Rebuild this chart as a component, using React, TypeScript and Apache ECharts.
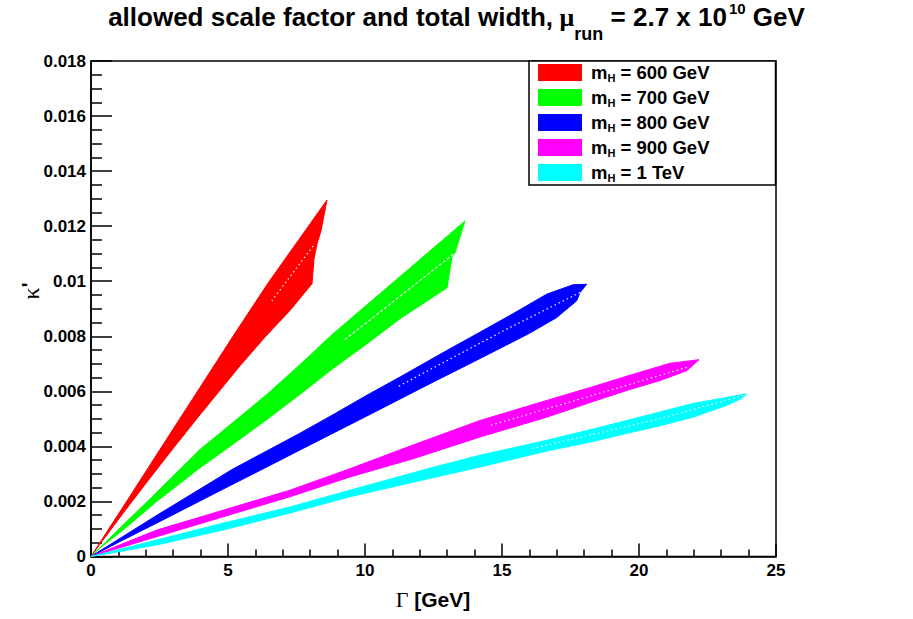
import React, { useEffect, useRef } from "react";
import * as echarts from "echarts";

// ---- data (Γ [GeV], κ') : outlines of the allowed regions ----
const red600: number[][] = [
  [0, 0], [0.693, 0.00107], [1.423, 0.00219], [2.518, 0.00389], [3.978, 0.00614],
  [5.182, 0.008], [6.46, 0.00993], [7.372, 0.01121], [8.613, 0.01295],
  [8.394, 0.01183], [8.248, 0.01135], [8.139, 0.01081], [8.066, 0.00991],
  [7.263, 0.00894], [6.35, 0.00797], [5.438, 0.00693], [4.708, 0.00604],
  [3.978, 0.00515], [2.993, 0.00392], [2.044, 0.00271], [1.168, 0.00157], [0.328, 0.00045],
];
const green700: number[][] = [
  [0, 0], [1.168, 0.00114], [2.409, 0.00234], [3.978, 0.00389], [5.182, 0.00487],
  [6.423, 0.00589], [7.628, 0.00697], [8.832, 0.00809], [9.927, 0.00902],
  [11.022, 0.00995], [12.372, 0.0111], [13.65, 0.01219],
  [13.285, 0.01103], [13.175, 0.01088], [12.993, 0.00976],
  [11.277, 0.00864], [10.073, 0.00773], [8.832, 0.00683], [7.628, 0.00589],
  [6.423, 0.00498], [5.182, 0.00408], [3.978, 0.00322], [2.409, 0.00201],
  [1.168, 0.00096], [0.328, 0.00031],
];
const blue800: number[][] = [
  [0, 0], [2.409, 0.0015], [5.182, 0.00318], [7.628, 0.00448], [8.832, 0.00515],
  [10.073, 0.00586], [11.277, 0.00652], [12.982, 0.00748], [14.197, 0.00815],
  [15.401, 0.00882], [16.631, 0.00953], [17.591, 0.00987], [18.091, 0.00989],
  [17.847, 0.00959], [17.726, 0.00929], [16.996, 0.00868], [16.022, 0.00812],
  [14.807, 0.0075], [13.577, 0.00688], [12.372, 0.00628], [11.277, 0.00572],
  [10.062, 0.0051], [8.832, 0.00448], [7.628, 0.00387], [6.412, 0.00325],
  [5.182, 0.00263], [2.409, 0.00122], [1.168, 0.0006],
];
const magenta900: number[][] = [
  [0, 0], [2.398, 0.00096], [4.818, 0.00168], [7.263, 0.00241], [9.453, 0.00319],
  [11.752, 0.00405], [14.197, 0.00494], [16.631, 0.00567], [18.321, 0.00617],
  [19.551, 0.00655], [21.131, 0.00702], [22.19, 0.00715],
  [21.741, 0.00675], [20.766, 0.00639], [19.551, 0.00603], [18.321, 0.00563],
  [16.631, 0.00506], [14.197, 0.00434], [11.752, 0.00355], [9.453, 0.00289],
  [7.263, 0.00217], [4.818, 0.00144], [2.398, 0.00072],
];
const cyan1000: number[][] = [
  [0, 0], [2.398, 0.0006], [4.818, 0.00121], [7.263, 0.0018], [9.453, 0.00241],
  [12.372, 0.00321], [14.197, 0.00368], [16.631, 0.00422], [18.321, 0.00463],
  [19.551, 0.00494], [20.766, 0.00525], [21.971, 0.00556], [23.931, 0.00591],
  [23.748, 0.00574], [23.201, 0.00549], [21.971, 0.00506], [20.766, 0.00475],
  [19.551, 0.00447], [18.321, 0.00418], [16.631, 0.00383], [14.197, 0.00325],
  [12.372, 0.00284], [9.453, 0.00217], [7.263, 0.00158], [4.818, 0.00096],
  [2.398, 0.00042],
];

// white gaps inside the regions
const redGap: number[][] = [[8.11, 0.01128], [6.6, 0.00929]];
const greenGap: number[][] = [[13.22, 0.01098], [10.06, 0.0085], [9.21, 0.00784]];
const blueGap: number[][] = [[17.85, 0.00959], [15.17, 0.00826], [11.16, 0.00615]];
const magentaGap: number[][] = [[21.74, 0.00687], [19.55, 0.00622], [14.56, 0.00476]];
const cyanGap: number[][] = [[23.8, 0.00585], [20.77, 0.00501], [16.0, 0.0039]];

const bandNames = ["m_H = 600 GeV", "m_H = 700 GeV", "m_H = 800 GeV", "m_H = 900 GeV", "m_H = 1 TeV"];
const bandColors = ["#ff0000", "#00ff00", "#0000ff", "#ff00ff", "#00ffff"];
const bandData = [red600, green700, blue800, magenta900, cyan1000];
const gapData = [redGap, greenGap, blueGap, magentaGap, cyanGap];

const xMin = 0, xMax = 25, xStep = 5;
const yMin = 0, yMax = 0.018, yStep = 0.002;

const SANS = "'Liberation Sans', Arial, Helvetica, sans-serif";
const SERIF = "'Liberation Serif', 'DejaVu Serif', serif";

function bandSeries(i: number) {
  const pts = bandData[i];
  const color = bandColors[i];
  return {
    type: "custom",
    name: bandNames[i],
    data: pts,
    encode: { x: 0, y: 1 },
    itemStyle: { color },
    silent: true,
    z: 2 + i,
    renderItem: (params: any, api: any) => {
      if (params.dataIndex !== 0) return null;
      const points = pts.map((p) => api.coord(p));
      return {
        type: "polygon",
        shape: { points },
        style: { fill: color, stroke: color, lineWidth: 1 },
      };
    },
  };
}

function gapSeries(i: number) {
  return {
    type: "line",
    name: "gap" + i,
    data: gapData[i],
    symbol: "none",
    silent: true,
    z: 20,
    lineStyle: { color: "#ffffff", width: 1.2, type: i === 1 ? [3, 2] : [1.5, 3] },
  };
}

export default function App() {
  const ref = useRef<HTMLDivElement>(null);
  useEffect(() => {
    const chart = echarts.init(ref.current!, null, { renderer: "svg" });
    const option: any = {
      animation: false,
      backgroundColor: "#ffffff",
      title: {
        text: "{a|allowed scale factor and total width,}{mu| μ}{sub|run}{a| = 2.7 x 10}{sup|10}{a| GeV}",
        left: "center",
        top: -9,
        padding: 0,
        textStyle: {
          rich: {
            a: { fontFamily: SANS, fontWeight: "bold", fontSize: 26, color: "#000", lineHeight: 52 },
            mu: { fontFamily: SERIF, fontSize: 26, color: "#000", lineHeight: 52 },
            sub: { fontFamily: SANS, fontWeight: "bold", fontSize: 18, color: "#000", lineHeight: 18, verticalAlign: "bottom" },
            sup: { fontFamily: SANS, fontWeight: "bold", fontSize: 15, color: "#000", lineHeight: 15, verticalAlign: "top", padding: [10, 0, 0, 2] },
          },
        },
      },
      grid: { left: 91, right: 137, top: 61, bottom: 62.5, show: true, borderColor: "#000", borderWidth: 1.5, backgroundColor: "transparent" },
      legend: {
        data: bandNames,
        orient: "vertical",
        left: 529,
        top: 61,
        icon: "rect",
        itemWidth: 44,
        itemHeight: 17,
        itemGap: 5,
        padding: [2, 66, 2, 9],
        backgroundColor: "#ffffff",
        borderColor: "#000",
        borderWidth: 1.5,
        borderRadius: 0,
        selectedMode: false,
        formatter: (name: string) => `{m0|m}{s|H}{m| = ${name.slice(6)}}`,
        textStyle: {
          rich: {
            m0: { fontFamily: SANS, fontWeight: "bold", fontSize: 18.5, color: "#000", padding: [0, 0, 0, 4], lineHeight: 21 },
            m: { fontFamily: SANS, fontWeight: "bold", fontSize: 18.5, color: "#000", lineHeight: 21 },
            s: { fontFamily: SANS, fontWeight: "bold", fontSize: 11, color: "#000", lineHeight: 11, verticalAlign: "bottom" },
          },
        },
      },
      xAxis: {
        type: "value",
        min: xMin,
        max: xMax,
        interval: xStep,
        axisLine: { show: true, onZero: false, lineStyle: { color: "#000", width: 1.5 } },
        axisTick: { show: true, inside: true, length: 13, lineStyle: { color: "#000", width: 1.5 } },
        minorTick: { show: true, splitNumber: 5, length: 7, lineStyle: { color: "#000", width: 1.5 } },
        splitLine: { show: false },
        axisLabel: { color: "#000", fontSize: 17, fontWeight: "bold", fontFamily: SANS, margin: 5 },
      },
      yAxis: {
        type: "value",
        min: yMin,
        max: yMax,
        interval: yStep,
        axisLine: { show: true, onZero: false, lineStyle: { color: "#000", width: 1.5 } },
        axisTick: { show: true, inside: true, length: 21, lineStyle: { color: "#000", width: 1.5 } },
        minorTick: { show: true, splitNumber: 4, length: 11, lineStyle: { color: "#000", width: 1.5 } },
        splitLine: { show: false },
        axisLabel: {
          color: "#000", fontSize: 17, fontWeight: "bold", fontFamily: SANS, margin: 5,
          formatter: (v: number) => (v === 0 ? "0" : String(+v.toFixed(3))),
        },
      },
      graphic: [
        {
          type: "text",
          x: 433,
          y: 599,
          style: {
            text: "{g|Γ}{b| [GeV]}",
            align: "center",
            verticalAlign: "middle",
            rich: {
              g: { fontFamily: SERIF, fontSize: 22, fill: "#000", color: "#000" },
              b: { fontFamily: SANS, fontWeight: "bold", fontSize: 21, fill: "#000", color: "#000" },
            },
          },
        },
        {
          type: "text",
          x: 31,
          y: 291,
          rotation: Math.PI / 2,
          style: {
            text: "{k|κ}{p|'}",
            align: "center",
            verticalAlign: "middle",
            rich: {
              k: { fontFamily: SERIF, fontSize: 24, fill: "#000", color: "#000" },
              p: { fontFamily: SANS, fontWeight: "bold", fontSize: 20, fill: "#000", color: "#000", verticalAlign: "top" },
            },
          },
        },
      ],
      series: [
        ...bandData.map((_, i) => bandSeries(i)),
        ...gapData.map((_, i) => gapSeries(i)),
      ],
    };
    chart.setOption(option);
    return () => chart.dispose();
  }, []);
  return (
    <div
      ref={ref}
      style={{ position: "fixed", left: 0, top: 0, width: 913, height: 619, background: "#fff" }}
    />
  );
}
